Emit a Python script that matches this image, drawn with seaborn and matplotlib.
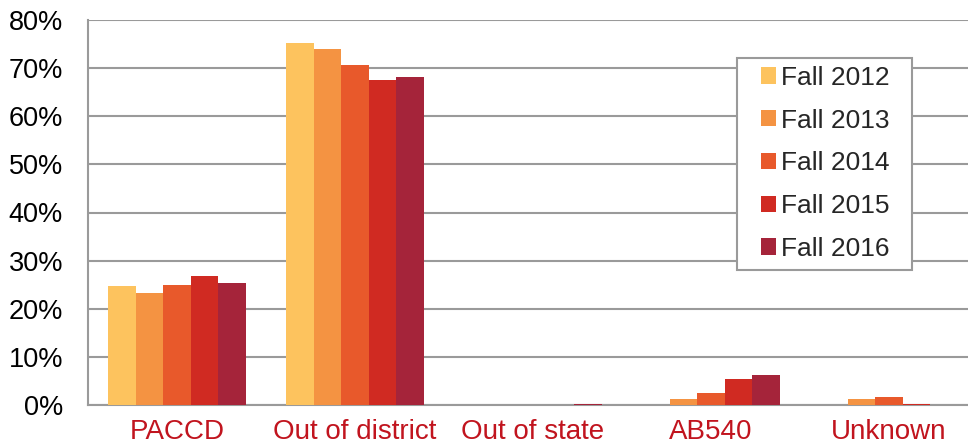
import matplotlib
matplotlib.use("Agg")
import matplotlib.pyplot as plt
import seaborn as sns
import pandas as pd
import numpy as np
from matplotlib.patches import Rectangle

categories = ["PACCD", "Out of district", "Out of state", "AB540", "Unknown"]
terms = ["Fall 2012", "Fall 2013", "Fall 2014", "Fall 2015", "Fall 2016"]
fall_2012 = [24.8, 75.2, 0.0, 0.0, 0.0]
fall_2013 = [23.3, 74.0, 0.0, 1.25, 1.25]
fall_2014 = [24.9, 70.6, 0.0, 2.4, 1.7]
fall_2015 = [26.8, 67.6, 0.1, 5.3, 0.3]
fall_2016 = [25.3, 68.2, 0.3, 6.2, 0.05]
colors = ["#FDC35E", "#F49342", "#E8592B", "#D02A22", "#A5243A"]
yticks = [0, 10, 20, 30, 40, 50, 60, 70, 80]

series = [fall_2012, fall_2013, fall_2014, fall_2015, fall_2016]
rows = []
for t, vals in zip(terms, series):
    for c, v in zip(categories, vals):
        rows.append({"category": c, "term": t, "value": v})
df = pd.DataFrame(rows)

sns.set_style("white")
plt.rcParams["font.family"] = ["Liberation Sans", "DejaVu Sans"]

W, H = 968, 447
fig = plt.figure(figsize=(W/100, H/100), dpi=100)
ax = fig.add_axes([88/W, 1-405/H, 890/W, (405-20)/H])

sns.barplot(data=df, x="category", y="value", hue="term", order=categories,
            hue_order=terms, palette=colors, width=0.77, ax=ax,
            saturation=1, edgecolor="none", linewidth=0, legend=True, zorder=3)

ax.set_ylim(0, 80)
ax.set_xlim(-0.5, len(categories) - 0.5)
ax.set_yticks(yticks)
ax.set_yticklabels([f"{v}%" for v in yticks], fontsize=19.5, color="black")
ax.yaxis.grid(True, color="#9a9a9a", linewidth=1.5, zorder=0)
ax.set_axisbelow(True)
ax.tick_params(axis="y", length=8, width=1.5, color="#9a9a9a", pad=10)

ax.set_xticks(range(len(categories)))
ax.set_xticklabels(categories, fontsize=20, color="#C1141E")
ax.tick_params(axis="x", which="major", length=0, pad=10)
ax.set_xticks(np.arange(-0.5, len(categories) + 0.5, 1), minor=True)
ax.tick_params(axis="x", which="minor", length=6, width=1.5, color="#9a9a9a")
ax.set_xlabel("")
ax.set_ylabel("")

for s in ["top", "right"]:
    ax.spines[s].set_visible(False)
for s in ["left", "bottom"]:
    ax.spines[s].set_color("#9a9a9a")
    ax.spines[s].set_linewidth(1.5)

leg = ax.legend(loc="upper left", bbox_to_anchor=(753/W, 1 - 58/H),
                bbox_transform=fig.transFigure, frameon=False,
                fontsize=19, handlelength=0.57, handleheight=0.57, handletextpad=0.2,
                labelspacing=0.71, borderpad=0.3, borderaxespad=0, title=None)
leg.set_zorder(6)

fig.canvas.draw()
bb = leg.get_window_extent()
frame = Rectangle((bb.x0 - 16, bb.y0 - 1), bb.width + 30, bb.height + 1,
                  transform=None, facecolor="white", edgecolor="#9a9a9a",
                  linewidth=1.5, zorder=5, clip_on=False)
ax.add_artist(frame)

fig.savefig("out.png", dpi=100)
